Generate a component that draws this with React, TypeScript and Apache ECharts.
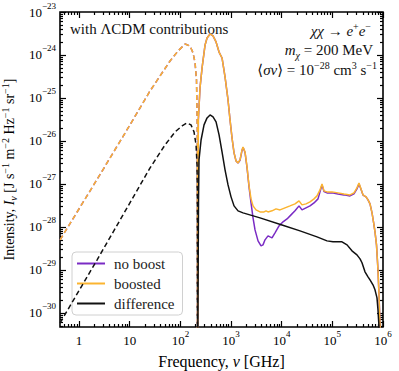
import React, { useEffect, useRef } from "react";
import * as echarts from "echarts";

// [frequency (GHz), intensity (J s^-1 m^-2 Hz^-1 sr^-1)]; "negative" = |I| where I < 0 (dashed)
const noBoostNegative: number[][] = [
  [0.422, 5.0e-29], [2.6, 1.66e-27], [10.1, 2.36e-26], [25.2, 1.46e-25], [39.7, 3.25e-25],
  [62.5, 7.25e-25], [89.9, 1.24e-24], [124, 1.8e-24], [155, 1.62e-24], [178, 1.11e-24],
  [195, 6.52e-25], [208, 2.62e-25], [216, 1.8e-26], [217, 1e-32],
];
const boostedNegative: number[][] = [
  [0.422, 5.0e-29], [2.6, 1.66e-27], [10.1, 2.36e-26], [25.2, 1.46e-25], [39.7, 3.25e-25],
  [62.5, 7.25e-25], [89.9, 1.24e-24], [124, 1.8e-24], [155, 1.62e-24], [178, 1.11e-24],
  [195, 6.52e-25], [208, 2.62e-25], [216, 1.8e-26], [217, 1e-32],
];
const differenceNegative: number[][] = [
  [0.422, 5.85e-31], [2.27, 1.71e-29], [25.2, 2.36e-27], [49.8, 8.07e-27], [78.5, 1.62e-26],
  [108, 2.23e-26], [135, 2.62e-26], [162, 2.36e-26], [186, 1.62e-26], [204, 8.07e-27],
  [213, 2.77e-27], [216, 4.25e-28], [217, 1e-32],
];
const noBoostPositive: number[][] = [
  [217.5, 1e-32], [226, 3.08e-26], [244, 1.71e-25], [268, 4.99e-25], [307, 1.71e-24],
  [336, 2.49e-24], [385, 3.08e-24], [441, 2.77e-24], [506, 2.01e-24], [580, 1.17e-24],
  [664, 8.51e-25], [761, 3.08e-25], [872, 8.98e-26], [955, 3.08e-26], [1046, 1.17e-26],
  [1146, 5.26e-27], [1254, 3.43e-27], [1374, 3.05e-27], [1504, 3.55e-27], [1648, 6.0e-27],
  [1725, 7.1e-27], [1888, 5.4e-27], [2068, 2.4e-27], [2265, 8.5e-28], [2481, 3.61e-28],
  [2717, 1.62e-28], [2974, 8.51e-29], [3411, 4.72e-29], [3908, 3.61e-29], [4277, 3.81e-29],
  [4688, 4.99e-29], [5370, 6.18e-29], [5884, 5.85e-29], [6442, 5.55e-29], [7381, 7.25e-29],
  [8853, 1.05e-28], [10620, 1.31e-28], [12740, 1.53e-28], [15280, 1.9e-28], [18330, 2.36e-28],
  [21980, 3.08e-28], [25180, 2.48e-28], [30200, 2.77e-28], [36230, 3.08e-28], [43450, 3.61e-28],
  [52110, 4.48e-28], [57040, 6.52e-28], [62520, 9.48e-28], [68430, 6.6e-28], [78400, 6.18e-28],
  [98400, 6.18e-28], [129000, 5.85e-28], [170000, 5.55e-28], [223000, 5.26e-28], [267000, 5.85e-28],
  [306000, 7.65e-28], [336000, 1.0e-27], [368000, 7.5e-28], [403000, 5.5e-28], [462000, 4.99e-28],
  [506000, 4.25e-28], [554000, 3.43e-28], [607000, 2.12e-28], [649000, 1.31e-28], [695000, 7.65e-29],
  [744000, 3.81e-29], [796000, 1.0e-29], [834000, 2.62e-30], [873000, 5.26e-31], [912000, 1.8e-31],
];
const boostedPositive: number[][] = [
  [217.5, 1e-32], [226, 3.08e-26], [244, 1.71e-25], [268, 4.99e-25], [307, 1.71e-24],
  [336, 2.49e-24], [385, 3.08e-24], [441, 2.77e-24], [506, 2.01e-24], [580, 1.17e-24],
  [664, 8.51e-25], [761, 3.08e-25], [872, 8.98e-26], [955, 3.08e-26], [1046, 1.17e-26],
  [1146, 5.26e-27], [1254, 3.43e-27], [1374, 3.08e-27], [1504, 3.61e-27], [1648, 6.18e-27],
  [1725, 7.25e-27], [1888, 5.55e-27], [2068, 2.48e-27], [2265, 8.98e-28], [2481, 4.48e-28],
  [2717, 3.08e-28], [3113, 2.48e-28], [3733, 2.23e-28], [4480, 2.23e-28], [4906, 2.36e-28],
  [5370, 2.23e-28], [6442, 2.36e-28], [7727, 2.62e-28], [9268, 2.48e-28], [11630, 2.77e-28],
  [14590, 3.08e-28], [18330, 3.43e-28], [21980, 4.03e-28], [25180, 3.25e-28], [30200, 3.43e-28],
  [36230, 3.81e-28], [43450, 4.48e-28], [49780, 5.26e-28], [57040, 7.25e-28], [62520, 1.0e-27],
  [68430, 6.87e-28], [78400, 6.52e-28], [98400, 6.52e-28], [129000, 6.18e-28], [170000, 5.85e-28],
  [223000, 5.55e-28], [267000, 6.18e-28], [306000, 8.07e-28], [336000, 1.05e-27], [368000, 7.65e-28],
  [403000, 5.55e-28], [462000, 4.99e-28], [506000, 4.25e-28], [554000, 3.43e-28], [607000, 2.12e-28],
  [649000, 1.31e-28], [695000, 7.65e-29], [744000, 3.81e-29], [796000, 1.0e-29], [834000, 2.62e-30],
  [873000, 5.26e-31], [912000, 1.8e-31],
];
const differencePositive: number[][] = [
  [217.2, 1e-32], [228, 4.25e-28], [233, 3.61e-27], [256, 1.05e-26], [293, 2.36e-26],
  [336, 3.43e-26], [385, 4.03e-26], [441, 3.61e-26], [506, 2.77e-26], [580, 1.38e-26],
  [664, 5.55e-27], [761, 2.12e-27], [872, 9.48e-28], [1000, 4.99e-28], [1146, 3.08e-28],
  [1374, 2.36e-28], [1725, 2.12e-28], [3733, 1.62e-28], [10140, 1.11e-28], [23010, 8.07e-29],
  [49780, 5.85e-29], [78400, 4.72e-29], [103000, 4.48e-29], [155000, 4.48e-29], [195000, 3.81e-29],
  [244000, 2.77e-29], [306000, 2.23e-29], [352000, 1.8e-29], [385000, 1.46e-29], [441000, 8.98e-30],
  [506000, 6.87e-30], [554000, 5.85e-30], [634000, 4.48e-30], [695000, 3.43e-30], [761000, 2.23e-30],
  [796000, 1.17e-30], [834000, 4.72e-31], [873000, 1.8e-31],
];

const legendNames = ["no boost", "boosted", "difference"];
const xTickExponents = [0, 1, 2, 3, 4, 5, 6];
const yTickExponents = [-30, -29, -28, -27, -26, -25, -24, -23];

const X_MIN = Math.log10(0.42);
const X_MAX = 6;
const Y_MIN = -30.33;
const Y_MAX = -23;

const FONT = "'Liberation Serif', 'DejaVu Serif', serif";
const PURPLE = "#7a2bc4";
const ORANGE = "#fbb430";
const BLACK = "#111111";

const toLog = (pts: number[][]) => pts.map(([f, v]) => [Math.log10(f), Math.log10(v)]);

const minorTicks = (lo: number, hi: number) => {
  const out: number[] = [];
  for (let e = Math.floor(lo); e <= Math.ceil(hi); e++) {
    for (let k = 2; k <= 9; k++) {
      const v = e + Math.log10(k);
      if (v > lo && v < hi) out.push(v);
    }
  }
  return out;
};

const supStr = (n: number) => String(n).replace("-", "\u2212");

const labelRich = {
  b: { fontFamily: FONT, fontSize: 13, color: "#000", lineHeight: 22 },
  s: { fontFamily: FONT, fontSize: 9, color: "#000", lineHeight: 10, verticalAlign: "top" },
};

const tickLine = { color: "#000", width: 1.2 };

function makeXAxis(position: string, major: boolean, withLabels: boolean) {
  return {
    type: "value",
    min: X_MIN,
    max: X_MAX,
    position,
    splitLine: { show: false },
    axisLine: { show: false, onZero: false },
    axisTick: {
      show: true,
      inside: true,
      length: major ? 6 : 3,
      customValues: major ? xTickExponents : minorTicks(X_MIN, X_MAX),
      lineStyle: tickLine,
    },
    axisLabel: withLabels
      ? {
          show: true,
          customValues: xTickExponents,
          margin: 2,
          formatter: (v: number) => {
            const e = Math.round(v);
            if (e === 0) return "{b|1}";
            if (e === 1) return "{b|10}";
            return `{b|10}{s|${supStr(e)}}`;
          },
          rich: labelRich,
        }
      : { show: false },
    ...(withLabels
      ? {
          name: "Frequency, {i|\u03bd} [GHz]",
          nameLocation: "middle",
          nameGap: 20,
          nameTextStyle: {
            fontFamily: FONT,
            fontSize: 16,
            color: "#000",
            lineHeight: 20,
            rich: { i: { fontFamily: FONT, fontSize: 16, fontStyle: "italic", color: "#000", lineHeight: 20 } },
          },
        }
      : {}),
  };
}

function makeYAxis(position: string, major: boolean, withLabels: boolean) {
  return {
    type: "value",
    min: Y_MIN,
    max: Y_MAX,
    position,
    splitLine: { show: false },
    axisLine: { show: false, onZero: false },
    axisTick: {
      show: true,
      inside: true,
      length: major ? 6 : 3,
      customValues: major ? yTickExponents : minorTicks(Y_MIN, Y_MAX),
      lineStyle: tickLine,
    },
    axisLabel: withLabels
      ? {
          show: true,
          customValues: yTickExponents,
          margin: 4,
          formatter: (v: number) => `{b|10}{s|${supStr(Math.round(v))}}`,
          rich: labelRich,
        }
      : { show: false },
    ...(withLabels
      ? {
          name:
            "Intensity, {i|I}{sub|\u03bd} [J s{sup|\u22121} m{sup|\u22122} Hz{sup|\u22121} sr{sup|\u22121}]",
          nameLocation: "middle",
          nameRotate: 90,
          nameGap: 36,
          nameTextStyle: {
            fontFamily: FONT,
            fontSize: 14,
            color: "#000",
            lineHeight: 18,
            rich: {
              i: { fontFamily: FONT, fontSize: 14, fontStyle: "italic", color: "#000", lineHeight: 18 },
              sub: { fontFamily: FONT, fontSize: 10, fontStyle: "italic", color: "#000", lineHeight: 10, verticalAlign: "bottom" },
              sup: { fontFamily: FONT, fontSize: 10, color: "#000", lineHeight: 10, verticalAlign: "top" },
            },
          },
        }
      : {}),
  };
}

function lineSeries(name: string, data: number[][], color: string, dashed: boolean, z: number) {
  return {
    name,
    type: "line",
    data: toLog(data),
    symbol: "none",
    showSymbol: false,
    clip: true,
    z,
    xAxisIndex: 0,
    yAxisIndex: 0,
    itemStyle: { color },
    lineStyle: { color, width: 1.5, type: dashed ? [5, 3] : "solid" },
  };
}

const annRich = {
  i: { fontFamily: FONT, fontSize: 15, fontStyle: "italic", fill: "#111", lineHeight: 20 },
  s: { fontFamily: FONT, fontSize: 10, fill: "#111", lineHeight: 10, verticalAlign: "top" },
  si: { fontFamily: FONT, fontSize: 10, fontStyle: "italic", fill: "#111", lineHeight: 10, verticalAlign: "bottom" },
};

export default function App() {
  const ref = useRef<HTMLDivElement>(null);
  useEffect(() => {
    if (!ref.current) return;
    const chart = echarts.init(ref.current, null, { renderer: "svg" });
    chart.setOption({
      animation: false,
      backgroundColor: "#fff",
      grid: {
        left: 60, right: 16, top: 12, bottom: 44,
        outerBoundsMode: "none", containLabel: false,
        show: true, borderColor: "#000", borderWidth: 1.6, backgroundColor: "transparent",
      },
      xAxis: [
        makeXAxis("bottom", true, true),
        makeXAxis("bottom", false, false),
        makeXAxis("top", true, false),
        makeXAxis("top", false, false),
      ],
      yAxis: [
        makeYAxis("left", true, true),
        makeYAxis("left", false, false),
        makeYAxis("right", true, false),
        makeYAxis("right", false, false),
      ],
      legend: {
        data: legendNames,
        orient: "vertical",
        left: 72,
        top: 252,
        icon: "rect",
        itemWidth: 28,
        itemHeight: 2,
        itemGap: 5,
        padding: [4, 8, 4, 5],
        backgroundColor: "rgba(255,255,255,0.8)",
        borderColor: "#d0d0d0",
        borderWidth: 1,
        borderRadius: 4,
        textStyle: { fontFamily: FONT, fontSize: 15, color: "#222", lineHeight: 13, padding: [0, 0, 0, 4] },
      },
      series: [
        lineSeries("no boost", noBoostPositive, PURPLE, false, 2),
        lineSeries("no boost (negative)", noBoostNegative, PURPLE, true, 2),
        lineSeries("boosted", boostedPositive, ORANGE, false, 3),
        lineSeries("boosted (negative)", boostedNegative, ORANGE, true, 3),
        lineSeries("difference", differencePositive, BLACK, false, 4),
        lineSeries("difference (negative)", differenceNegative, BLACK, true, 4),
      ],
      graphic: [
        {
          type: "text",
          x: 70,
          y: 29,
          style: { text: "with \u039bCDM contributions", fontFamily: FONT, fontSize: 15, fill: "#111", align: "left", verticalAlign: "middle" },
        },
        {
          type: "text",
          x: 371,
          y: 31,
          style: {
            text: "{i|\u03c7\u03c7} \u2192 {i|e}{s|+}{i|e}{s|\u2212}",
            rich: annRich,
            fontFamily: FONT,
            fontSize: 15,
            lineHeight: 20,
            fill: "#111",
            align: "right",
            verticalAlign: "middle",
          },
        },
        {
          type: "text",
          x: 373,
          y: 50,
          style: {
            text: "{i|m}{si|\u03c7} = 200 MeV",
            rich: annRich,
            fontFamily: FONT,
            fontSize: 15,
            lineHeight: 20,
            fill: "#111",
            align: "right",
            verticalAlign: "middle",
          },
        },
        {
          type: "text",
          x: 377,
          y: 70,
          style: {
            text: "\u27e8{i|\u03c3v}\u27e9 = 10{s|\u221228} cm{s|3} s{s|\u22121}",
            rich: annRich,
            fontFamily: FONT,
            fontSize: 15,
            lineHeight: 20,
            fill: "#111",
            align: "right",
            verticalAlign: "middle",
          },
        },
      ],
    });
    return () => chart.dispose();
  }, []);
  return <div ref={ref} style={{ position: "fixed", left: 0, top: 0, width: 399, height: 371 }} />;
}
